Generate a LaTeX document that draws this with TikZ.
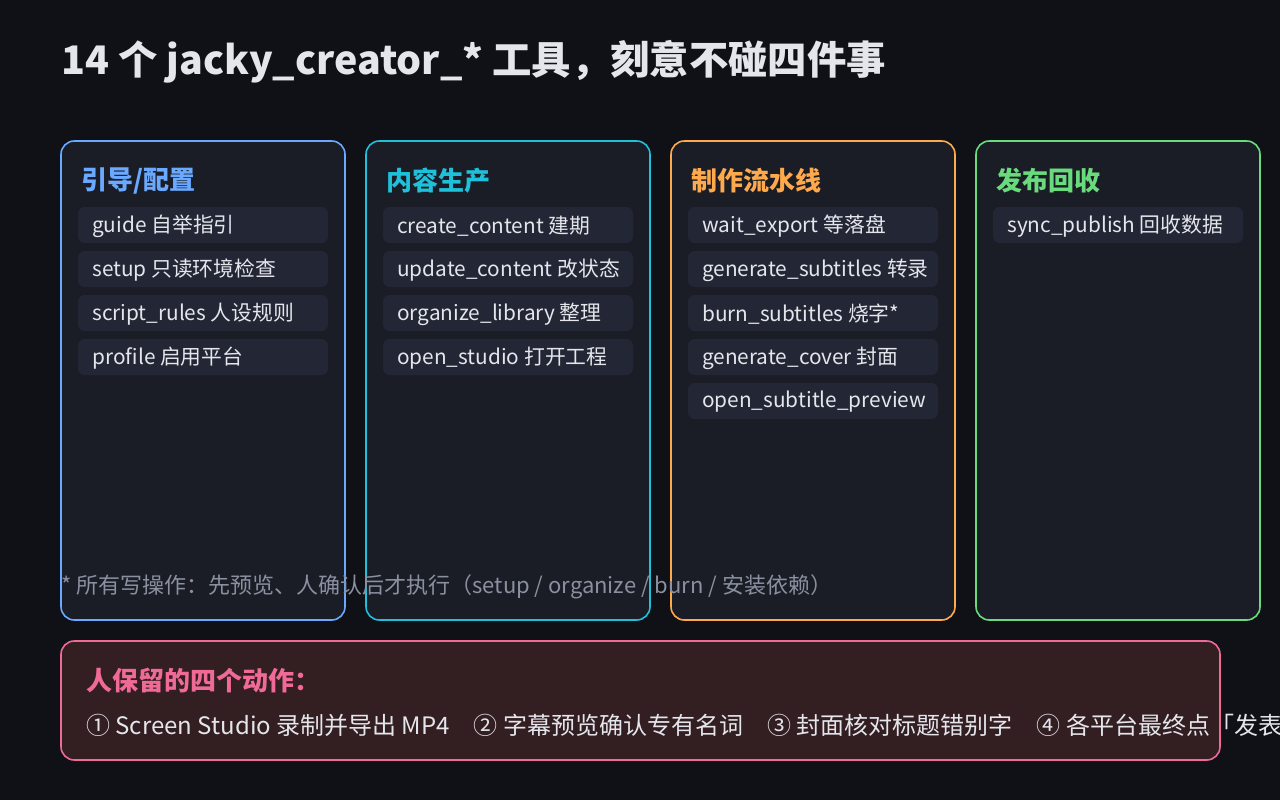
\documentclass[tikz,border=0pt]{standalone}
\usepackage{fontspec}
\setmainfont{Noto Sans CJK SC}
\definecolor{bg}{HTML}{0F1117}
\definecolor{panel}{HTML}{1A1D26}
\definecolor{item}{HTML}{232634}
\definecolor{txt}{HTML}{E4E6EC}
\definecolor{note}{HTML}{8A90A0}
\definecolor{cblue}{HTML}{6AA9FF}
\definecolor{ccyan}{HTML}{1FC0DA}
\definecolor{corange}{HTML}{FFA94D}
\definecolor{cgreen}{HTML}{69DB7C}
\definecolor{cpink}{HTML}{F06A98}
\definecolor{warm}{HTML}{331E22}
\tikzset{
  lane/.style={draw=#1,line width=1.2pt,fill=panel,rounded corners=10pt},
  head/.style={anchor=west,text=#1,font=\fontsize{19.5}{22}\selectfont\bfseries,inner sep=0pt},
  chip/.style={fill=item,rounded corners=5pt},
  tool/.style={anchor=west,inner sep=0pt,text=txt,font=\fontsize{15.6}{17}\selectfont},
}
\newcommand{\lane}[5]{% x, colour, name, title, items
  \draw[lane=#2] (#1,141) rectangle ++(284,479);
  \node[head=#2] (#3) at (#1+20,181) {#4};
  \foreach \t [count=\i] in {#5}{
    \fill[chip] (#1+17,207+44*\i-44) rectangle ++(250,36);
    \node[tool] (#3\i) at (#1+31,226+44*\i-44) {\t};
  }
}
\begin{document}
\begin{tikzpicture}[x=0.75pt,y=-0.75pt]
\clip (0,0) rectangle (1280,800);
\fill[bg] (0,0) rectangle (1280,800);
\node[anchor=west,text=txt,font=\fontsize{29.5}{32}\selectfont\bfseries,inner sep=0pt] (title)
  at (61,62) {14 个 jacky\_creator\_* 工具，刻意不碰四件事};
\lane{61}{cblue}{guide}{引导/配置}{guide 自举指引,setup 只读环境检查,script\_rules 人设规则,profile 启用平台}
\lane{366}{ccyan}{content}{内容生产}{create\_content 建期,update\_content 改状态,organize\_library 整理,open\_studio 打开工程}
\lane{671}{corange}{pipe}{制作流水线}{wait\_export 等落盘,generate\_subtitles 转录,burn\_subtitles 烧字*,generate\_cover 封面,open\_subtitle\_preview}
\lane{976}{cgreen}{pub}{发布回收}{sync\_publish 回收数据}
\node[anchor=west,inner sep=0pt,text=note,font=\fontsize{16.5}{18}\selectfont] (foot) at (61,587)
  {* 所有写操作：先预览、人确认后才执行（setup / organize / burn / 安装依赖）};
\draw[draw=cpink,line width=1.2pt,fill=warm,rounded corners=10pt] (61,641) rectangle (1220,760);
\node[head=cpink] (keep) at (86,680) {人保留的四个动作：};
\node[anchor=west,inner sep=0pt,text=txt,font=\fontsize{18}{20}\selectfont] (acts) at (86,725)
  {① Screen Studio 录制并导出 MP4\quad ② 字幕预览确认专有名词\quad ③ 封面核对标题错别字\quad ④ 各平台最终点「发表」};
\end{tikzpicture}
\end{document}
